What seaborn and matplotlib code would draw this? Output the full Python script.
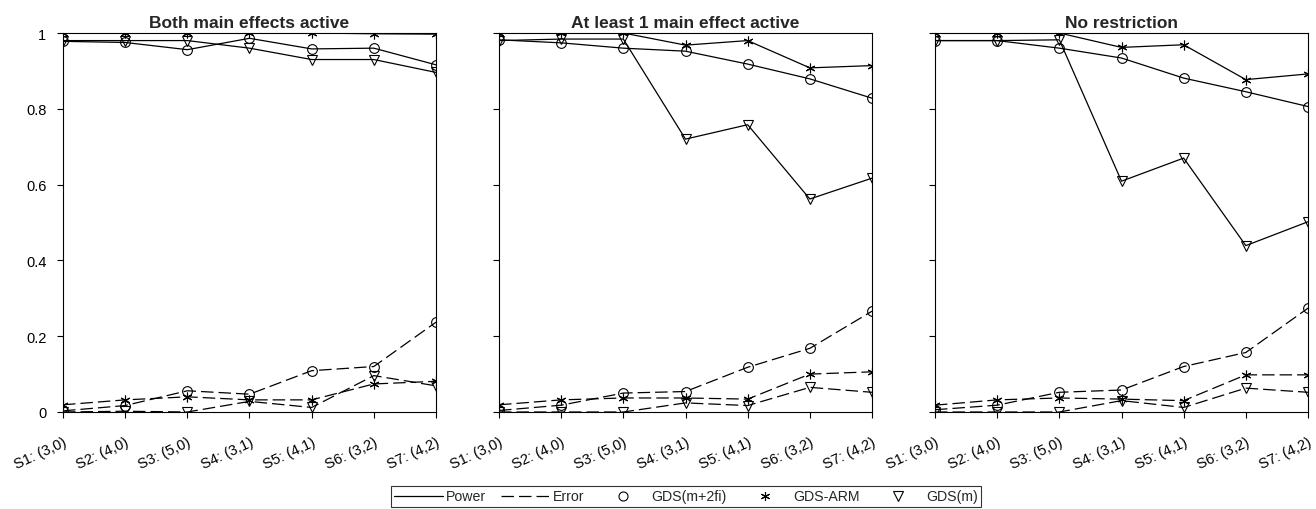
import numpy as np
import pandas as pd
import seaborn as sns
import matplotlib.pyplot as plt
from matplotlib.lines import Line2D

scenarios = ["S1: (3,0)", "S2: (4,0)", "S3: (5,0)", "S4: (3,1)",
             "S5: (4,1)", "S6: (3,2)", "S7: (4,2)"]
panels = ["Both main effects active", "At least 1 main effect active", "No restriction"]
methods = ["GDS(m+2fi)", "GDS-ARM", "GDS(m)"]

# --- Power values (one list per panel / method) ---
power_both_m2fi = [0.978, 0.975, 0.956, 0.986, 0.958, 0.960, 0.916]
power_both_arm = [1.0, 1.0, 1.0, 1.0, 1.0, 0.998, 0.997]
power_both_m = [0.980, 0.980, 0.980, 0.960, 0.930, 0.930, 0.896]

power_one_m2fi = [0.982, 0.974, 0.960, 0.952, 0.918, 0.879, 0.828]
power_one_arm = [1.0, 1.0, 1.0, 0.968, 0.980, 0.908, 0.914]
power_one_m = [0.980, 0.984, 0.984, 0.720, 0.758, 0.562, 0.617]

power_none_m2fi = [0.980, 0.980, 0.960, 0.934, 0.881, 0.845, 0.806]
power_none_arm = [1.0, 1.0, 1.0, 0.962, 0.969, 0.877, 0.892]
power_none_m = [0.980, 0.980, 0.982, 0.609, 0.670, 0.439, 0.502]

# --- Error values ---
error_both_m2fi = [0.003, 0.017, 0.056, 0.047, 0.109, 0.120, 0.237]
error_both_arm = [0.019, 0.032, 0.040, 0.032, 0.032, 0.074, 0.081]
error_both_m = [0.0, 0.002, 0.0, 0.028, 0.012, 0.096, 0.069]

error_one_m2fi = [0.004, 0.018, 0.050, 0.054, 0.118, 0.168, 0.266]
error_one_arm = [0.019, 0.032, 0.037, 0.037, 0.034, 0.100, 0.106]
error_one_m = [0.0, 0.0, 0.0, 0.024, 0.017, 0.065, 0.052]

error_none_m2fi = [0.006, 0.018, 0.052, 0.058, 0.120, 0.157, 0.274]
error_none_arm = [0.018, 0.032, 0.037, 0.034, 0.030, 0.098, 0.098]
error_none_m = [0.0, 0.0, 0.0, 0.030, 0.012, 0.063, 0.052]

values = {
    (panels[0], "Power"): [power_both_m2fi, power_both_arm, power_both_m],
    (panels[1], "Power"): [power_one_m2fi, power_one_arm, power_one_m],
    (panels[2], "Power"): [power_none_m2fi, power_none_arm, power_none_m],
    (panels[0], "Error"): [error_both_m2fi, error_both_arm, error_both_m],
    (panels[1], "Error"): [error_one_m2fi, error_one_arm, error_one_m],
    (panels[2], "Error"): [error_none_m2fi, error_none_arm, error_none_m],
}

rows = []
for (panel, measure), series in values.items():
    for method, vals in zip(methods, series):
        for i, v in enumerate(vals):
            rows.append({"panel": panel, "measure": measure, "method": method,
                         "pos": i, "value": v})
df = pd.DataFrame(rows)

# --- Graph data ---
sns.set_theme(style="white")
plt.rcParams['font.family'] = ['Liberation Sans', 'DejaVu Sans']

fig = plt.figure(figsize=(13.16, 5.10), dpi=100)
lefts = [63, 499, 935]
marker_map = {"GDS(m+2fi)": "o", "GDS-ARM": (6, 2, 0), "GDS(m)": "v"}
size_map = {"GDS(m+2fi)": 7, "GDS-ARM": 7, "GDS(m)": 7.5}
dashes = (0, (10, 4))
dash_map = {"Power": "-", "Error": dashes}

for panel, left in zip(panels, lefts):
    ax = fig.add_axes([left / 1316, 97 / 510, 373 / 1316, 379 / 510])
    for measure in ["Power", "Error"]:
        for method in methods:
            sub = df[(df["panel"] == panel) & (df["measure"] == measure) & (df["method"] == method)]
            sns.lineplot(data=sub, x="pos", y="value", ax=ax, color="black",
                         linewidth=0.9, linestyle=dash_map[measure],
                         marker=marker_map[method], markersize=size_map[method],
                         markerfacecolor="none", markeredgecolor="black",
                         markeredgewidth=0.8, legend=False)
    ax.set_xlim(0, 6)
    ax.set_ylim(0, 1)
    ax.set_xticks(range(7))
    ax.set_xticklabels(scenarios, rotation=25, ha="right", rotation_mode="anchor",
                       fontsize=10.5)
    ax.set_yticks([0, 0.2, 0.4, 0.6, 0.8, 1])
    if left == 63:
        ax.set_yticklabels(["0", "0.2", "0.4", "0.6", "0.8", "1"], fontsize=10.5)
    else:
        ax.set_yticklabels([])
    ax.tick_params(axis="both", direction="out", length=4, width=0.8,
                   colors="black", left=True, bottom=True)
    ax.tick_params(axis="y", pad=8)
    ax.tick_params(axis="x", pad=12)
    ax.set_xlabel("")
    ax.set_ylabel("")
    ax.set_title(panel, fontsize=12.5, fontweight="bold", pad=4)
    for sp in ax.spines.values():
        sp.set_color("black")
        sp.set_linewidth(0.8)
    ax.set_facecolor("white")

handles = [
    Line2D([], [], color="black", linewidth=0.9, linestyle="-"),
    Line2D([], [], color="black", linewidth=0.9, linestyle=dashes),
    Line2D([], [], color="black", linestyle="none", marker="o", markersize=6.5,
           markerfacecolor="none", markeredgewidth=0.8),
    Line2D([], [], color="black", linestyle="none", marker=(6, 2, 0), markersize=6.5,
           markeredgewidth=0.8),
    Line2D([], [], color="black", linestyle="none", marker="v", markersize=6.5,
           markerfacecolor="none", markeredgewidth=0.8),
]
labels = ["Power", "Error", "GDS(m+2fi)", "GDS-ARM", "GDS(m)"]
leg = fig.legend(handles, labels, loc="center", ncol=5,
                 bbox_to_anchor=(686 / 1316, 12.5 / 510), fontsize=10.2,
                 frameon=True, fancybox=False, edgecolor="black",
                 handlelength=3.4, handletextpad=0.25, columnspacing=1.05,
                 borderpad=0.25, borderaxespad=0)
leg.get_frame().set_linewidth(0.8)

plt.savefig("out.png", dpi=100)
